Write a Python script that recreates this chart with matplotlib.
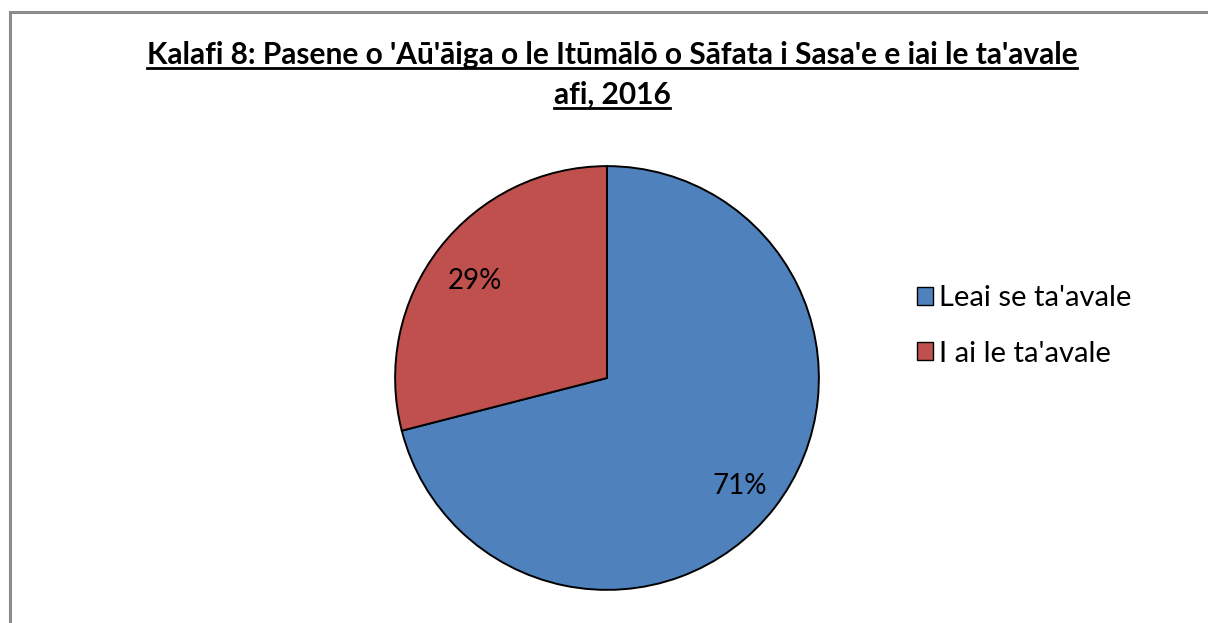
import matplotlib
matplotlib.use("Agg")
import matplotlib.pyplot as plt
from matplotlib.patches import Rectangle, Patch
from matplotlib.lines import Line2D

categories = ["Leai se ta'avale", "I ai le ta'avale"]
values = [71, 29]
colors = ["#4F81BD", "#C0504D"]
title_lines = ["Kalafi 8: Pasene o 'Aū'āiga o le Itūmālō o Sāfata i Sasa'e e iai le ta'avale",
               "afi, 2016"]

plt.rcParams['font.family'] = ['Lato', 'DejaVu Sans']

W, H = 1208, 623
fig = plt.figure(figsize=(W / 100, H / 100), dpi=100)

# outer frame
fig.patches.append(Rectangle((10 / W, -0.1), 1.2, 1 - 12 / H + 0.1, transform=fig.transFigure,
                             fill=False, edgecolor="#8c8c8c", linewidth=2.2, zorder=0))

cx, cy, r = 607, 378, 214
ax = fig.add_axes([(cx - r) / W, (H - cy - r) / H, 2 * r / W, 2 * r / H])
wedges, texts, autotexts = ax.pie(values, colors=colors, startangle=90, counterclock=False,
                                  autopct='%1.0f%%', pctdistance=0.79,
                                  wedgeprops=dict(edgecolor='black', linewidth=1.4),
                                  textprops=dict(fontsize=20, color='black'))
for at in autotexts:
    x, y = at.get_position()
    at.set_position((x, y - 0.025))
ax.set_xlim(-1.01, 1.01)
ax.set_ylim(-1.01, 1.01)
ax.set_aspect('equal')
ax.axis('off')

# title with underline
title_y = [55, 95]
renderer = fig.canvas.get_renderer()
for line, ty in zip(title_lines, title_y):
    t = fig.text(612 / W, 1 - ty / H, line, ha='center', va='center', fontsize=21.5,
                 fontweight='bold')
    bb = t.get_window_extent(renderer=renderer)
    uy = bb.y0 + 1
    fig.lines.append(Line2D([bb.x0 / W, bb.x1 / W], [uy / H, uy / H], transform=fig.transFigure,
                            color='black', linewidth=2.0))

handles = [Patch(facecolor=c, edgecolor='black', linewidth=1.0) for c in colors]
fig.legend(handles, categories, loc='center left', bbox_to_anchor=(917 / W, 1 - 326 / H),
           frameon=False, fontsize=21, handlelength=0.55, handleheight=0.55,
           handletextpad=0.2, labelspacing=1.0, borderpad=0, borderaxespad=0)

fig.savefig("out.png", dpi=100, facecolor='white')
